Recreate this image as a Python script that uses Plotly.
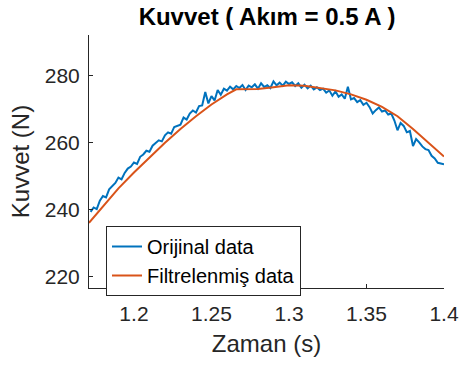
import numpy as np
import plotly.graph_objects as go

# time grid for the raw signal (sampled every 2 ms)
t_start = 1.172
t_step = 0.002
orijinal = [
    239.3, 240.6, 240.1, 242.6, 244.0, 243.6, 246.0, 247.1, 247.9, 249.5,
    249.0, 250.9, 252.2, 252.8, 254.0, 253.6, 255.7, 256.4, 257.5, 257.2,
    259.0, 259.8, 260.6, 260.3, 262.1, 263.0, 262.6, 264.6, 265.0, 265.3,
    267.4, 266.8, 268.6, 269.5, 268.9, 270.8, 271.0, 275.0, 271.6, 273.8,
    272.5, 275.6, 274.2, 276.0, 275.4, 276.6, 275.8, 276.8, 276.2, 277.1,
    275.6, 276.9, 276.4, 277.3, 276.0, 277.6, 276.5, 277.0, 276.2, 278.2,
    277.0, 277.8, 276.9, 278.1, 277.4, 277.9, 276.8, 277.6, 276.3, 277.2,
    276.1, 276.9, 275.8, 276.4, 275.6, 276.0, 274.8, 275.5, 273.9, 275.2,
    273.6, 274.3, 273.0, 276.6, 272.8, 273.2, 272.0, 272.6, 271.2, 271.8,
    270.5, 268.6, 269.6, 270.4, 269.2, 269.5, 268.3, 268.6, 266.5, 263.6,
    265.8, 264.9, 263.0, 263.4, 258.9, 261.0, 260.0, 258.8, 258.0, 257.7,
    256.0, 255.2, 253.9, 253.7, 253.5,
]
zaman_orijinal = np.round(t_start + t_step * np.arange(len(orijinal)), 4)

zaman_filtre = [1.171, 1.18, 1.19, 1.20, 1.21, 1.22, 1.23, 1.24, 1.25, 1.26,
                1.266, 1.28, 1.29, 1.30, 1.31, 1.32, 1.33, 1.34, 1.35, 1.36,
                1.37, 1.38, 1.39, 1.40]
filtrelenmis = [236.0, 241.0, 246.3, 251.0, 255.6, 259.9, 264.0, 267.8, 271.3, 274.3,
                275.8, 275.9, 276.4, 277.0, 276.9, 276.3, 275.5, 274.3, 272.7, 270.6,
                267.8, 264.0, 259.9, 255.8]

x_ticks = [1.2, 1.25, 1.3, 1.35, 1.4]
x_tick_text = ["1.2", "1.25", "1.3", "1.35", "1.4"]
y_ticks = [220, 240, 260, 280]

FONT = "Liberation Sans, Arial, Helvetica, sans-serif"
AX = "#262626"

fig = go.Figure()
fig.add_trace(go.Scatter(x=zaman_orijinal, y=orijinal, mode="lines",
                         name="Orijinal data",
                         line=dict(color="#0072BD", width=2)))
fig.add_trace(go.Scatter(x=zaman_filtre, y=filtrelenmis, mode="lines",
                         name="Filtrelenmiş data",
                         line=dict(color="#D95319", width=2)))

fig.update_layout(
    width=461, height=368,
    margin=dict(l=89, r=17, t=35, b=80),
    paper_bgcolor="white", plot_bgcolor="white",
    font=dict(family=FONT, color=AX),
    title=dict(text="<b>Kuvvet ( Akım = 0.5 A )</b>", x=267 / 461, xanchor="center",
               y=1 - 17 / 368, yanchor="middle", yref="container",
               font=dict(size=24, color="black", family=FONT)),
    showlegend=True,
    legend=dict(x=(106 - 89) / 355, y=(288 - 226) / 253, xanchor="left", yanchor="top",
                bgcolor="white", bordercolor=AX, borderwidth=1,
                font=dict(size=20, color="black", family=FONT),
                tracegroupgap=0, itemwidth=30),
)
fig.update_xaxes(range=[1.171, 1.4], tickvals=x_ticks, ticktext=x_tick_text,
                 ticks="inside", ticklen=4, tickcolor=AX, showgrid=False, zeroline=False,
                 showline=True, linecolor=AX, linewidth=1, mirror=False, automargin=False,
                 tickfont=dict(size=21, color=AX), ticklabelstandoff=7,
                 title=dict(text="Zaman (s)", font=dict(size=24, color=AX), standoff=10))
fig.update_yaxes(range=[216.6, 292], tickvals=y_ticks,
                 ticks="inside", ticklen=4, tickcolor=AX, showgrid=False, zeroline=False,
                 showline=True, linecolor=AX, linewidth=1, mirror=False, automargin=False,
                 tickfont=dict(size=21, color=AX), ticklabelstandoff=4,
                 title=dict(text="Kuvvet (N)", font=dict(size=24, color=AX), standoff=8))

fig.write_html("out.html")
